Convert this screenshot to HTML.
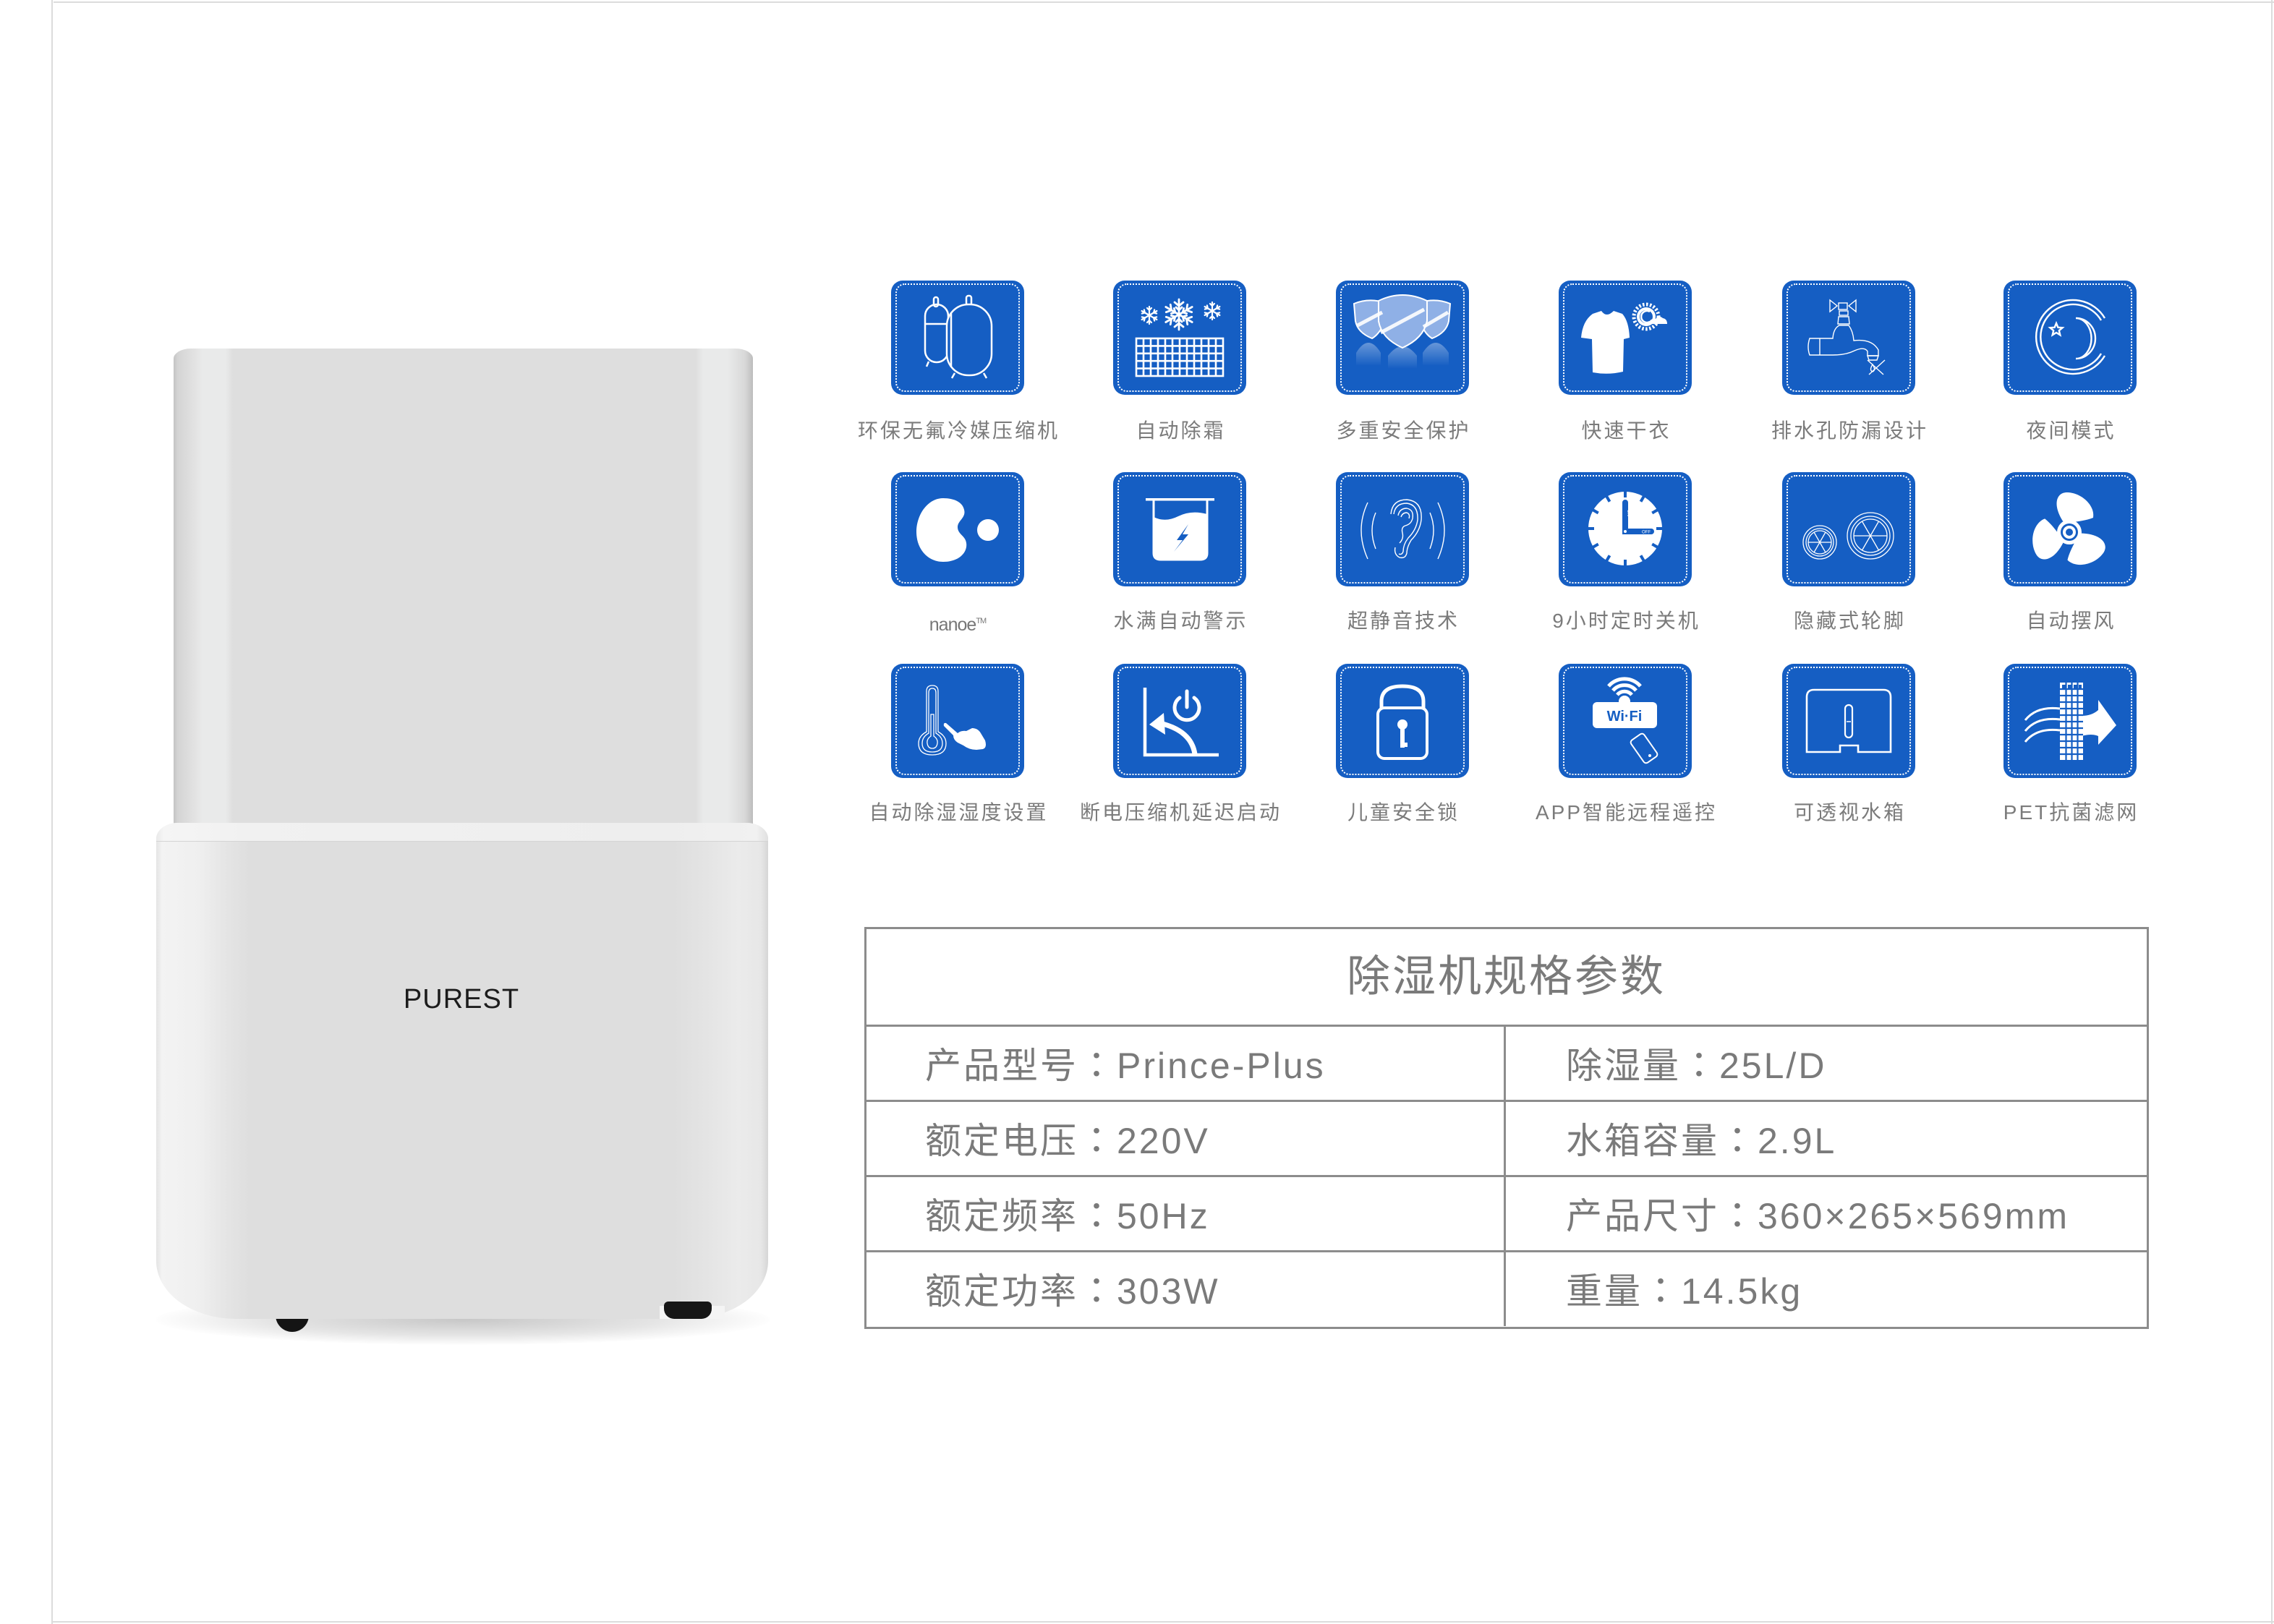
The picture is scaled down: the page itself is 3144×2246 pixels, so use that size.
<!DOCTYPE html>
<html>
<head>
<meta charset="utf-8">
<style>
  html,body{margin:0;padding:0;background:#fff;}
  body{width:3144px;height:2246px;position:relative;overflow:hidden;font-family:"Liberation Sans","Noto Sans CJK SC",sans-serif;}
  .abs{position:absolute;}
  .ic{position:absolute;width:184px;height:158px;}
  .lbl{position:absolute;width:400px;text-align:center;line-height:40px;font-size:28px;letter-spacing:3px;text-indent:3px;color:#7b7b7b;white-space:nowrap;}
  .cell{position:absolute;font-size:50px;letter-spacing:3px;color:#7a7a7a;line-height:60px;white-space:nowrap;}
  .col{font-family:"Noto Sans CJK TC",sans-serif;}
</style>
</head>
<body>

<!-- page frame lines -->
<div class="abs" style="left:71px;top:0;width:2px;height:2246px;background:#dcdcdc;"></div>
<div class="abs" style="left:74px;top:2px;width:3070px;height:2px;background:#dcdcdc;"></div>
<div class="abs" style="left:3140px;top:0;width:2px;height:2246px;background:#dcdcdc;"></div>
<div class="abs" style="left:71px;top:2242px;width:3073px;height:2px;background:#dcdcdc;"></div>

<!-- ============ PRODUCT ============ -->
<!-- shadow -->
<div class="abs" style="left:215px;top:1790px;width:850px;height:70px;border-radius:50%;background:radial-gradient(ellipse at center, rgba(0,0,0,0.22) 0%, rgba(0,0,0,0.10) 45%, rgba(0,0,0,0) 72%);"></div>

<!-- upper body -->
<div class="abs" style="left:240px;top:482px;width:801px;height:690px;border-radius:24px 24px 18px 18px / 14px 14px 18px 18px;
background:linear-gradient(to right,#c4c4c4 0px,#d4d4d4 6px,#e3e3e3 30px,#e9eaea 40px,#e9eaea 72px,#dedede 82px,#dedede 722px,#e9eaea 732px,#e9eaea 766px,#d8d8d8 790px,#bdbdbd 801px);"></div>

<!-- left foot -->
<div class="abs" style="left:381px;top:1812px;width:46px;height:30px;border-radius:6px 6px 23px 23px;background:#141414;"></div>

<!-- lower body -->
<div class="abs" style="left:216px;top:1138px;width:846px;height:686px;border-radius:30px 30px 110px 110px / 22px 22px 80px 80px;
background:linear-gradient(to right,#e4e4e4 0px,#f3f3f3 8px,#efefef 60px,#e4e4e4 100px,#dedede 130px,#dedede 715px,#e4e4e4 760px,#ebebeb 805px,#e7e7e7 836px,#d6d6d6 846px);"></div>
<!-- lip -->
<div class="abs" style="left:216px;top:1138px;width:846px;height:25px;border-radius:30px 30px 0 0 / 22px 22px 0 0;
background:linear-gradient(to right,#e9e9e9 0px,#f5f5f5 10px,#f1f1f1 120px,#eeeeee 700px,#f1f1f1 830px,#e0e0e0 846px);border-bottom:1px solid #d4d4d4;"></div>
<!-- notch near right foot -->
<div class="abs" style="left:912px;top:1806px;width:90px;height:18px;background:#f4f4f4;"></div>
<!-- right foot (on top) -->
<div class="abs" style="left:918px;top:1800px;width:66px;height:24px;border-radius:6px 6px 14px 14px;background:#161616;"></div>

<div class="abs" style="left:548px;top:1358px;width:180px;text-align:center;font-size:38px;line-height:48px;letter-spacing:1px;color:#1c1c1c;">PUREST</div>

<!-- ============ ICONS ============ -->
<!-- Row 1 -->
<svg class="ic" style="left:1232px;top:388px" viewBox="0 0 184 158">
  <rect width="184" height="158" rx="16" fill="#155EC3"/>
  <rect x="7" y="5" width="170" height="148" rx="12" fill="none" stroke="#fff" stroke-width="2" stroke-dasharray="2 2"/>
  <g fill="none" stroke="#fff" stroke-width="2.5">
    <rect x="59" y="23" width="6" height="13" rx="3"/>
    <rect x="47" y="33" width="32" height="80" rx="16"/>
    <line x1="47" y1="60" x2="79" y2="60"/>
    <line x1="52" y1="112" x2="49" y2="119"/>
    <rect x="104" y="21" width="7" height="13" rx="3"/>
    <rect x="77" y="33" width="62" height="98" rx="30" fill="#155EC3"/>
    <path d="M83,44 L83,120"/>
    <line x1="88" y1="128" x2="84" y2="135"/>
    <line x1="128" y1="128" x2="132" y2="135"/>
  </g>
</svg>

<svg class="ic" style="left:1539px;top:388px" viewBox="0 0 184 158">
  <rect width="184" height="158" rx="16" fill="#155EC3"/>
  <rect x="7" y="5" width="170" height="148" rx="12" fill="none" stroke="#fff" stroke-width="2" stroke-dasharray="2 2"/>
  <g fill="none" stroke="#fff" stroke-width="2.2" stroke-linecap="round">
    <g transform="translate(50,48)">
      <g><path d="M0,0V-12M0,-7L-3,-10M0,-7L3,-10"/></g>
      <g transform="rotate(60)"><path d="M0,0V-12M0,-7L-3,-10M0,-7L3,-10"/></g>
      <g transform="rotate(120)"><path d="M0,0V-12M0,-7L-3,-10M0,-7L3,-10"/></g>
      <g transform="rotate(180)"><path d="M0,0V-12M0,-7L-3,-10M0,-7L3,-10"/></g>
      <g transform="rotate(240)"><path d="M0,0V-12M0,-7L-3,-10M0,-7L3,-10"/></g>
      <g transform="rotate(300)"><path d="M0,0V-12M0,-7L-3,-10M0,-7L3,-10"/></g>
    </g>
    <g transform="translate(91,47)" stroke-width="2.8">
      <g><path d="M0,0V-21M0,-12L-6,-17M0,-12L6,-17M0,-6L-4,-10M0,-6L4,-10"/></g>
      <g transform="rotate(60)"><path d="M0,0V-21M0,-12L-6,-17M0,-12L6,-17M0,-6L-4,-10M0,-6L4,-10"/></g>
      <g transform="rotate(120)"><path d="M0,0V-21M0,-12L-6,-17M0,-12L6,-17M0,-6L-4,-10M0,-6L4,-10"/></g>
      <g transform="rotate(180)"><path d="M0,0V-21M0,-12L-6,-17M0,-12L6,-17M0,-6L-4,-10M0,-6L4,-10"/></g>
      <g transform="rotate(240)"><path d="M0,0V-21M0,-12L-6,-17M0,-12L6,-17M0,-6L-4,-10M0,-6L4,-10"/></g>
      <g transform="rotate(300)"><path d="M0,0V-21M0,-12L-6,-17M0,-12L6,-17M0,-6L-4,-10M0,-6L4,-10"/></g>
    </g>
    <g transform="translate(137,42)">
      <g><path d="M0,0V-12M0,-7L-3,-10M0,-7L3,-10"/></g>
      <g transform="rotate(60)"><path d="M0,0V-12M0,-7L-3,-10M0,-7L3,-10"/></g>
      <g transform="rotate(120)"><path d="M0,0V-12M0,-7L-3,-10M0,-7L3,-10"/></g>
      <g transform="rotate(180)"><path d="M0,0V-12M0,-7L-3,-10M0,-7L3,-10"/></g>
      <g transform="rotate(240)"><path d="M0,0V-12M0,-7L-3,-10M0,-7L3,-10"/></g>
      <g transform="rotate(300)"><path d="M0,0V-12M0,-7L-3,-10M0,-7L3,-10"/></g>
    </g>
  </g>
  <g fill="none" stroke="#fff" stroke-width="2.6">
    <rect x="32" y="80" width="120" height="52"/>
    <path d="M42,80V132M52,80V132M62,80V132M72,80V132M82,80V132M92,80V132M102,80V132M112,80V132M122,80V132M132,80V132M142,80V132"/>
    <path d="M32,90.4H152M32,100.8H152M32,111.2H152M32,121.6H152"/>
  </g>
</svg>

<svg class="ic" style="left:1847px;top:388px" viewBox="0 0 184 158">
  <defs>
    <linearGradient id="fadeg" x1="0" y1="0" x2="0" y2="1">
      <stop offset="0" stop-color="#fff" stop-opacity="0.35"/>
      <stop offset="1" stop-color="#fff" stop-opacity="0"/>
    </linearGradient>
  </defs>
  <rect width="184" height="158" rx="16" fill="#155EC3"/>
  <rect x="7" y="5" width="170" height="148" rx="12" fill="none" stroke="#fff" stroke-width="2" stroke-dasharray="2 2"/>
  <path d="M28,118 L28,100 Q45,72 62,100 L62,118 Z" fill="url(#fadeg)"/>
  <path d="M72,122 L72,104 Q92,78 112,104 L112,122 Z" fill="url(#fadeg)"/>
  <path d="M120,118 L120,100 Q138,72 156,100 L156,118 Z" fill="url(#fadeg)"/>
  <g stroke="#fff" stroke-width="2" fill="#8fb0e6">
    <path d="M25,32 Q45,24 66,30 L66,60 Q60,74 50,80 Q30,72 27,56 Z"/>
    <path d="M118,30 Q138,24 158,32 L156,56 Q153,72 133,80 Q123,74 118,60 Z"/>
    <path d="M59,28 Q92,12 126,28 L126,56 Q121,80 92,93 Q63,80 59,56 Z"/>
  </g>
  <g stroke="#fff" stroke-width="5" fill="none" opacity="0.9">
    <line x1="62" y1="72" x2="122" y2="40"/>
    <line x1="30" y1="62" x2="64" y2="44"/>
    <line x1="121" y1="64" x2="155" y2="44"/>
  </g>
</svg>

<svg class="ic" style="left:2155px;top:388px" viewBox="0 0 184 158">
  <rect width="184" height="158" rx="16" fill="#155EC3"/>
  <rect x="7" y="5" width="170" height="148" rx="12" fill="none" stroke="#fff" stroke-width="2" stroke-dasharray="2 2"/>
  <path fill="#fff" d="M47,46 L59,42 Q66,52 76,42 L88,46 Q97,56 98,79 L90,81 L89,126 Q68,131 47,127 L46,81 L31,79 Q33,56 47,46 Z"/>
  <circle cx="121" cy="50" r="17" fill="none" stroke="#fff" stroke-width="5" stroke-dasharray="2.5 2.5"/>
  <circle cx="121" cy="50" r="13" fill="#fff"/>
  <circle cx="121" cy="50" r="9" fill="#155EC3"/>
  <path d="M126,43 A8,8 0 1 0 126,57" fill="none" stroke="#fff" stroke-width="2.5"/>
  <path fill="#fff" d="M124,60 Q126,52 134,53 Q138,47 144,52 Q150,53 150,60 Z"/>
</svg>

<svg class="ic" style="left:2464px;top:388px" viewBox="0 0 184 158">
  <rect width="184" height="158" rx="16" fill="#155EC3"/>
  <rect x="7" y="5" width="170" height="148" rx="12" fill="none" stroke="#fff" stroke-width="2" stroke-dasharray="2 2"/>
  <g fill="none" stroke="#fff" stroke-width="1.4">
    <path d="M66,27 L76,35 L66,43 Z M102,27 L92,35 L102,43 Z"/>
    <rect x="78" y="31" width="12" height="9"/>
    <rect x="79" y="42" width="12" height="6"/>
    <path d="M78,50 L92,50 L93,60 L77,60 Z"/>
    <path d="M38,80 L70,80 Q71,66 79,62 L92,62 Q98,70 99,83 Q124,80 133,96 L133,104 L118,104 L118,98 Q114,91 100,97 Q88,103 70,103 L38,103 Q34,92 38,80 Z"/>
    <line x1="52" y1="80" x2="52" y2="103"/>
    <path d="M118,104 L133,104 L131,110 L120,110 Z"/>
    <path d="M118,110 L140,130 M142,110 L120,130"/>
    <path d="M125,116 Q120,124 125,126 Q130,124 125,116 Z"/>
  </g>
</svg>

<svg class="ic" style="left:2770px;top:388px" viewBox="0 0 184 158">
  <rect width="184" height="158" rx="16" fill="#155EC3"/>
  <rect x="7" y="5" width="170" height="148" rx="12" fill="none" stroke="#fff" stroke-width="2" stroke-dasharray="2 2"/>
  <g fill="none" stroke="#fff" stroke-width="2.4">
    <path d="M140,52 A51,51 0 1 0 140,104"/>
    <path d="M135,55 A45,45 0 1 0 135,101"/>
    <path d="M100,52 A27,28 0 0 1 100,108 A20,26 0 0 0 100,52 Z"/>
    <path d="M73,59 L75.4,64.8 L81.6,65.2 L76.8,69.2 L78.3,75.3 L73,72 L67.7,75.3 L69.2,69.2 L64.4,65.2 L70.6,64.8 Z"/>
  </g>
</svg>

<!-- Row 2 -->
<svg class="ic" style="left:1232px;top:653px" viewBox="0 0 184 158">
  <rect width="184" height="158" rx="16" fill="#155EC3"/>
  <rect x="7" y="5" width="170" height="148" rx="12" fill="none" stroke="#fff" stroke-width="2" stroke-dasharray="2 2"/>
  <path fill="#fff" d="M72,36 C50,36 35,60 35,82 C35,108 52,124 72,124 C95,124 106,110 104,98 C103,88 92,86 92,76 C92,67 104,63 101,52 C99,42 88,36 72,36 Z"/>
  <ellipse cx="134" cy="80" rx="15" ry="15" fill="#fff"/>
</svg>

<svg class="ic" style="left:1539px;top:653px" viewBox="0 0 184 158">
  <rect width="184" height="158" rx="16" fill="#155EC3"/>
  <rect x="7" y="5" width="170" height="148" rx="12" fill="none" stroke="#fff" stroke-width="2" stroke-dasharray="2 2"/>
  <rect x="45" y="36" width="95" height="3.5" fill="#fff"/>
  <path d="M56,39 L56,112 Q56,121 66,121 L120,121 Q130,121 130,112 L130,39" fill="none" stroke="#fff" stroke-width="3"/>
  <path fill="#fff" d="M56,62 Q72,70 90,61 Q108,52 130,58 L130,112 Q130,121 120,121 L66,121 Q56,121 56,112 Z"/>
  <path fill="#155EC3" d="M104,72 L88,94 L96,94 L84,110 L104,86 L96,86 Z"/>
</svg>

<svg class="ic" style="left:1847px;top:653px" viewBox="0 0 184 158">
  <rect width="184" height="158" rx="16" fill="#155EC3"/>
  <rect x="7" y="5" width="170" height="148" rx="12" fill="none" stroke="#fff" stroke-width="2" stroke-dasharray="2 2"/>
  <g fill="none" stroke="#fff" stroke-width="1.4">
    <path d="M44,42 Q26,80 44,120"/>
    <path d="M55,56 Q45,80 55,106"/>
    <path d="M141,42 Q159,80 141,120"/>
    <path d="M130,56 Q140,80 130,106"/>
    <path d="M76,58 Q78,38 98,38 Q120,40 118,66 Q116,82 104,94 Q98,104 98,112 Q96,120 88,118 Q80,114 82,104"/>
    <path d="M80,58 Q82,43 98,43 Q114,45 113,66 Q111,80 100,91 Q93,100 93,110 Q91,115 87,113"/>
    <path d="M86,60 Q88,50 98,50 Q108,52 106,64 Q104,72 96,74 Q90,76 92,84 Q94,92 88,98"/>
    <path d="M90,62 Q92,56 98,56 Q103,58 101,64"/>
  </g>
</svg>

<svg class="ic" style="left:2155px;top:653px" viewBox="0 0 184 158">
  <rect width="184" height="158" rx="16" fill="#155EC3"/>
  <rect x="7" y="5" width="170" height="148" rx="12" fill="none" stroke="#fff" stroke-width="2" stroke-dasharray="2 2"/>
  <circle cx="92" cy="78" r="51" fill="#fff"/>
  <g stroke="#155EC3" stroke-width="4">
    <line x1="92" y1="26" x2="92" y2="35"/>
    <line x1="92" y1="26" x2="92" y2="35" transform="rotate(30 92 78)"/>
    <line x1="92" y1="26" x2="92" y2="35" transform="rotate(60 92 78)"/>
    <line x1="92" y1="26" x2="92" y2="35" transform="rotate(90 92 78)"/>
    <line x1="92" y1="26" x2="92" y2="35" transform="rotate(120 92 78)"/>
    <line x1="92" y1="26" x2="92" y2="35" transform="rotate(150 92 78)"/>
    <line x1="92" y1="26" x2="92" y2="35" transform="rotate(180 92 78)"/>
    <line x1="92" y1="26" x2="92" y2="35" transform="rotate(210 92 78)"/>
    <line x1="92" y1="26" x2="92" y2="35" transform="rotate(240 92 78)"/>
    <line x1="92" y1="26" x2="92" y2="35" transform="rotate(270 92 78)"/>
    <line x1="92" y1="26" x2="92" y2="35" transform="rotate(300 92 78)"/>
    <line x1="92" y1="26" x2="92" y2="35" transform="rotate(330 92 78)"/>
  </g>
  <g stroke="#155EC3" stroke-width="8" stroke-linecap="round" fill="none">
    <path d="M92,42 L92,82 L128,82"/>
  </g>
  <circle cx="92" cy="82" r="2" fill="#fff"/>
  <text x="0" y="0" transform="translate(95,52) rotate(90)" font-family="Liberation Sans" font-size="6" fill="#fff">ON</text>
  <text x="115" y="84.5" font-family="Liberation Sans" font-size="6" fill="#fff">OFF</text>
</svg>

<svg class="ic" style="left:2464px;top:653px" viewBox="0 0 184 158">
  <rect width="184" height="158" rx="16" fill="#155EC3"/>
  <rect x="7" y="5" width="170" height="148" rx="12" fill="none" stroke="#fff" stroke-width="2" stroke-dasharray="2 2"/>
  <g fill="none" stroke="#fff" stroke-width="1.3">
    <circle cx="52" cy="97" r="23"/>
    <circle cx="52" cy="97" r="19"/>
    <circle cx="52" cy="97" r="16"/>
    <path d="M36,97H68 M44,83L60,111 M60,83L44,111"/>
    <circle cx="122" cy="88" r="32"/>
    <circle cx="122" cy="88" r="27"/>
    <circle cx="122" cy="88" r="23"/>
    <path d="M99,88H145 M110.5,68L133.5,108 M133.5,68L110.5,108"/>
  </g>
</svg>

<svg class="ic" style="left:2770px;top:653px" viewBox="0 0 184 158">
  <rect width="184" height="158" rx="16" fill="#155EC3"/>
  <rect x="7" y="5" width="170" height="148" rx="12" fill="none" stroke="#fff" stroke-width="2" stroke-dasharray="2 2"/>
  <g transform="translate(91,83)" fill="#fff">
    <path d="M-8,-14 C-24,-38 -18,-56 -2,-55 C18,-54 36,-36 33,-20 C23,-16 12,-15 6,-14 Z"/>
    <path transform="rotate(125)" d="M-8,-14 C-24,-38 -18,-56 -2,-55 C18,-54 36,-36 33,-20 C23,-16 12,-15 6,-14 Z"/>
    <path transform="rotate(240)" d="M-8,-14 C-24,-38 -18,-56 -2,-55 C18,-54 36,-36 33,-20 C23,-16 12,-15 6,-14 Z"/>
    <circle r="17"/>
    <circle r="12" fill="#155EC3"/>
    <circle r="9"/>
    <circle r="5" fill="#155EC3"/>
  </g>
</svg>

<!-- Row 3 -->
<svg class="ic" style="left:1232px;top:918px" viewBox="0 0 184 158">
  <rect width="184" height="158" rx="16" fill="#155EC3"/>
  <rect x="7" y="5" width="170" height="148" rx="12" fill="none" stroke="#fff" stroke-width="2" stroke-dasharray="2 2"/>
  <g fill="none" stroke="#fff" stroke-width="1.3">
    <path d="M49,94 L49,38 Q49,30 57,30 Q65,30 65,38 L65,94 Q76,100 76,110 Q76,126 57,126 Q38,126 38,110 Q38,100 49,94 Z"/>
    <path d="M52,96 L52,40 Q52,34 57,34 Q62,34 62,40 L62,96 Q71,101 71,110 Q71,122 57,122 Q43,122 43,110 Q43,101 52,96 Z"/>
    <path d="M55,70 L55,100 Q49,104 50,110 Q51,117 57,117 Q63,117 64,110 Q65,104 59,100 L59,70 Z"/>
  </g>
  <path fill="#fff" d="M76,82 L92,96 Q97,92 104,93 L112,89 Q120,89 124,96 L130,106 Q133,116 127,118 L118,119 Q108,119 100,113 L92,109 Q86,105 86,99 L73,86 Q72,81 76,82 Z"/>
</svg>

<svg class="ic" style="left:1539px;top:918px" viewBox="0 0 184 158">
  <rect width="184" height="158" rx="16" fill="#155EC3"/>
  <rect x="7" y="5" width="170" height="148" rx="12" fill="none" stroke="#fff" stroke-width="2" stroke-dasharray="2 2"/>
  <path d="M44,33 L44,126 L146,126" fill="none" stroke="#fff" stroke-width="4.5"/>
  <path d="M113,125 Q108,92 64,82" fill="none" stroke="#fff" stroke-width="7"/>
  <polygon points="50,84 70,68 72,98" fill="#fff"/>
  <path d="M92,47 A17,17 0 1 0 112,47" fill="none" stroke="#fff" stroke-width="5" stroke-linecap="round"/>
  <line x1="102" y1="38" x2="102" y2="60" stroke="#fff" stroke-width="5" stroke-linecap="round"/>
</svg>

<svg class="ic" style="left:1847px;top:918px" viewBox="0 0 184 158">
  <rect width="184" height="158" rx="16" fill="#155EC3"/>
  <rect x="7" y="5" width="170" height="148" rx="12" fill="none" stroke="#fff" stroke-width="2" stroke-dasharray="2 2"/>
  <path d="M63,61 L63,52 Q63,31 92,31 Q121,31 121,52 L121,61" fill="none" stroke="#fff" stroke-width="5"/>
  <rect x="58" y="61" width="68" height="70" rx="9" fill="none" stroke="#fff" stroke-width="4"/>
  <circle cx="92" cy="84" r="7" fill="#fff"/>
  <rect x="89" y="86" width="6" height="30" fill="#fff"/>
  <rect x="89" y="109" width="10" height="6" fill="#fff"/>
</svg>

<svg class="ic" style="left:2155px;top:918px" viewBox="0 0 184 158">
  <rect width="184" height="158" rx="16" fill="#155EC3"/>
  <rect x="7" y="5" width="170" height="148" rx="12" fill="none" stroke="#fff" stroke-width="2" stroke-dasharray="2 2"/>
  <g fill="none" stroke="#fff" stroke-width="5">
    <path d="M81,43 A13,13 0 0 1 101,43"/>
    <path d="M75,37 A21,21 0 0 1 107,37"/>
    <path d="M69,31 A29,29 0 0 1 113,31"/>
  </g>
  <circle cx="91" cy="52" r="8" fill="#fff"/>
  <rect x="47" y="53" width="89" height="36" rx="6" fill="#fff"/>
  <text x="91" y="79" text-anchor="middle" font-family="Liberation Sans" font-weight="bold" font-size="20" fill="#155EC3">Wi·Fi</text>
  <rect x="107" y="98" width="22" height="38" rx="4" fill="none" stroke="#fff" stroke-width="2" transform="rotate(-35 118 117)"/>
  <circle cx="126" cy="127" r="2" fill="#fff"/>
</svg>

<svg class="ic" style="left:2464px;top:918px" viewBox="0 0 184 158">
  <rect width="184" height="158" rx="16" fill="#155EC3"/>
  <rect x="7" y="5" width="170" height="148" rx="12" fill="none" stroke="#fff" stroke-width="2" stroke-dasharray="2 2"/>
  <path d="M34,122 L34,46 Q34,36 44,36 L140,36 Q150,36 150,46 L150,122 L105,122 L105,113 L80,113 L80,122 Z" fill="none" stroke="#fff" stroke-width="2.6"/>
  <rect x="87" y="57" width="10" height="45" rx="5" fill="none" stroke="#fff" stroke-width="2.2"/>
  <line x1="89" y1="80" x2="95" y2="80" stroke="#fff" stroke-width="1.5"/>
</svg>

<svg class="ic" style="left:2770px;top:918px" viewBox="0 0 184 158">
  <rect width="184" height="158" rx="16" fill="#155EC3"/>
  <rect x="7" y="5" width="170" height="148" rx="12" fill="none" stroke="#fff" stroke-width="2" stroke-dasharray="2 2"/>
  <path fill="#fff" d="M108,72 Q122,72 131,64 L131,50 L156,85 L131,112 L131,100 Q122,96 108,100 Z"/>
  <rect x="78" y="26" width="32" height="107" fill="#fff"/>
  <g fill="#155EC3">
    <path d="M81,29h5v6h-5zM89,29h5v6h-5zM97,29h5v6h-5zM104,29h4v6h-4z"/>
  </g>
  <g stroke="#155EC3" stroke-width="2.2">
    <path d="M86.5,26V133M94.5,26V133M102.5,26V133"/>
    <path d="M78,35H110M78,44H110M78,53H110M78,62H110M78,71H110M78,80H110M78,89H110M78,98H110M78,107H110M78,116H110M78,125H110"/>
  </g>
  <g fill="none" stroke="#fff" stroke-width="3">
    <path d="M30,78 Q46,58 78,62"/>
    <path d="M30,93 Q46,73 78,77"/>
    <path d="M30,108 Q46,88 78,92"/>
  </g>
</svg>

<!-- icon labels -->
<div class="lbl" style="left:1124px;top:576px;">环保无氟冷媒压缩机</div>
<div class="lbl" style="left:1431px;top:576px;">自动除霜</div>
<div class="lbl" style="left:1739px;top:576px;">多重安全保护</div>
<div class="lbl" style="left:2047px;top:576px;">快速干衣</div>
<div class="lbl" style="left:2356px;top:576px;">排水孔防漏设计</div>
<div class="lbl" style="left:2662px;top:576px;">夜间模式</div>

<div class="lbl" style="left:1124px;top:839px;font-size:25px;letter-spacing:-1px;text-indent:0;color:#777;">nanoe<span style="font-size:11px;vertical-align:10px;">TM</span></div>
<div class="lbl" style="left:1431px;top:839px;">水满自动警示</div>
<div class="lbl" style="left:1739px;top:839px;">超静音技术</div>
<div class="lbl" style="left:2047px;top:839px;">9小时定时关机</div>
<div class="lbl" style="left:2356px;top:839px;">隐藏式轮脚</div>
<div class="lbl" style="left:2662px;top:839px;">自动摆风</div>

<div class="lbl" style="left:1124px;top:1104px;">自动除湿湿度设置</div>
<div class="lbl" style="left:1431px;top:1104px;">断电压缩机延迟启动</div>
<div class="lbl" style="left:1739px;top:1104px;">儿童安全锁</div>
<div class="lbl" style="left:2047px;top:1104px;">APP智能远程遥控</div>
<div class="lbl" style="left:2356px;top:1104px;">可透视水箱</div>
<div class="lbl" style="left:2662px;top:1104px;">PET抗菌滤网</div>

<!-- ============ TABLE ============ -->
<div class="abs" style="left:1195px;top:1282px;width:1770px;height:550px;border:3px solid #8c8c8c;"></div>
<div class="abs" style="left:1195px;top:1417px;width:1773px;height:3px;background:#8c8c8c;"></div>
<div class="abs" style="left:1195px;top:1521px;width:1773px;height:3px;background:#8c8c8c;"></div>
<div class="abs" style="left:1195px;top:1625px;width:1773px;height:3px;background:#8c8c8c;"></div>
<div class="abs" style="left:1195px;top:1729px;width:1773px;height:3px;background:#8c8c8c;"></div>
<div class="abs" style="left:2079px;top:1418px;width:3px;height:416px;background:#8c8c8c;"></div>

<div class="abs" style="left:1581px;top:1316px;width:1000px;text-align:center;font-size:60px;line-height:70px;letter-spacing:3px;text-indent:3px;color:#7a7a7a;">除湿机规格参数</div>

<div class="cell" style="left:1279px;top:1440px;">产品型号<span class="col">：</span>Prince-Plus</div>
<div class="cell" style="left:2165px;top:1440px;">除湿量<span class="col">：</span>25L/D</div>
<div class="cell" style="left:1279px;top:1544px;">额定电压<span class="col">：</span>220V</div>
<div class="cell" style="left:2165px;top:1544px;">水箱容量<span class="col">：</span>2.9L</div>
<div class="cell" style="left:1279px;top:1648px;">额定频率<span class="col">：</span>50Hz</div>
<div class="cell" style="left:2165px;top:1648px;">产品尺寸<span class="col">：</span>360×265×569mm</div>
<div class="cell" style="left:1279px;top:1752px;">额定功率<span class="col">：</span>303W</div>
<div class="cell" style="left:2165px;top:1752px;">重量<span class="col">：</span>14.5kg</div>

</body>
</html>
